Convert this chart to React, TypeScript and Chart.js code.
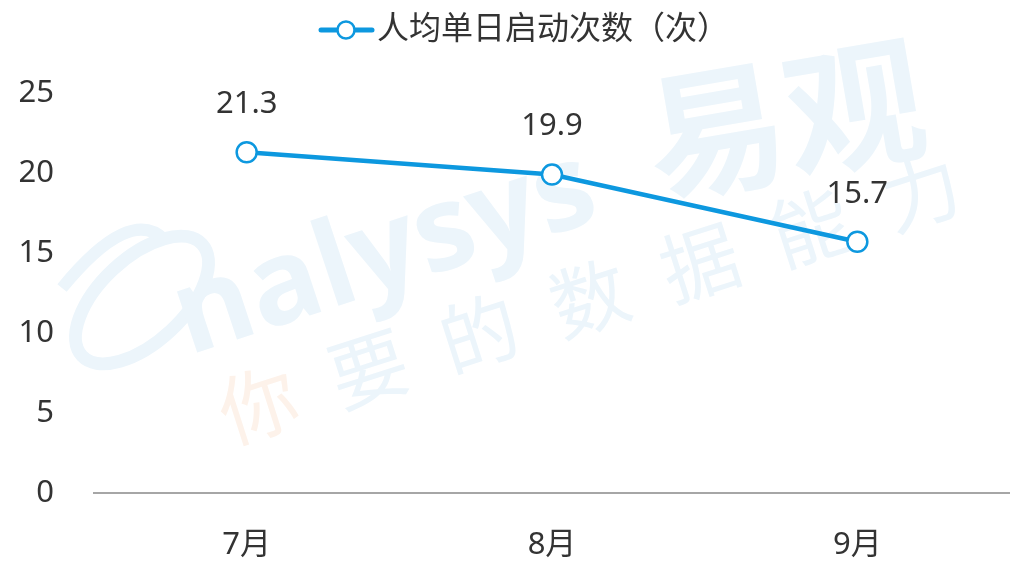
import React, { useEffect, useRef } from "react";
import { Chart, registerables } from "chart.js";

Chart.register(...registerables);

const categories = ["7月", "8月", "9月"];
const seriesName = "人均单日启动次数（次）";
const seriesValues = [21.3, 19.9, 15.7];
const yTicks = [0, 5, 10, 15, 20, 25];
const wmWord = "nalysys";
const wmBrand = "易观";
const wmSlogan = ["你", "要", "的", "数", "据", "能", "力"];

const LINE_COLOR = "#0d98df";
const TEXT_COLOR = "#333333";
const FONT = '"Noto Sans", "Noto Sans CJK SC", sans-serif';
const WM_BLUE = "#ecf5fb";
const WM_ORANGE = "#fdf2ea";

const watermarkPlugin = {
  id: "watermark",
  beforeDraw(chart: any) {
    const ctx = chart.ctx;
    ctx.save();
    ctx.strokeStyle = WM_BLUE;
    ctx.lineWidth = 13;
    ctx.translate(142, 300);
    ctx.rotate(-0.75);
    ctx.beginPath();
    ctx.ellipse(0, 0, 82, 42, 0, 0, Math.PI * 2);
    ctx.stroke();
    ctx.restore();
    ctx.save();
    ctx.strokeStyle = WM_BLUE;
    ctx.lineWidth = 12;
    ctx.beginPath();
    ctx.moveTo(62, 288);
    ctx.quadraticCurveTo(130, 205, 165, 240);
    ctx.stroke();
    ctx.restore();

    ctx.save();
    ctx.translate(385, 255);
    ctx.rotate(-0.32);
    ctx.font = 'bold 118px "Open Sans", "Noto Sans", sans-serif';
    ctx.fillStyle = WM_BLUE;
    ctx.textAlign = "center";
    ctx.textBaseline = "middle";
    ctx.fillText(wmWord, 0, 0);
    ctx.restore();

    ctx.save();
    ctx.translate(785, 118);
    ctx.rotate(-0.17);
    ctx.font = 'bold 140px "Noto Sans CJK SC", sans-serif';
    ctx.fillStyle = WM_BLUE;
    ctx.textAlign = "center";
    ctx.textBaseline = "middle";
    ctx.fillText(wmBrand, 0, 0);
    ctx.restore();

    ctx.save();
    ctx.font = '78px "Noto Sans CJK SC", sans-serif';
    ctx.textAlign = "center";
    ctx.textBaseline = "middle";
    const x0 = 258, y0 = 404, step = 116, ang = -0.31;
    wmSlogan.forEach((ch, i) => {
      ctx.save();
      ctx.translate(x0 + i * step * Math.cos(ang), y0 + i * step * Math.sin(ang));
      ctx.rotate(ang);
      ctx.fillStyle = i === 0 ? WM_ORANGE : WM_BLUE;
      ctx.fillText(ch, 0, 0);
      ctx.restore();
    });
    ctx.restore();
  },
};

const legendPlugin = {
  id: "customLegend",
  afterDraw(chart: any) {
    const ctx = chart.ctx;
    ctx.save();
    const y = 30;
    ctx.strokeStyle = LINE_COLOR;
    ctx.lineWidth = 5;
    ctx.lineCap = "round";
    ctx.beginPath();
    ctx.moveTo(321, y);
    ctx.lineTo(372, y);
    ctx.stroke();
    ctx.beginPath();
    ctx.arc(346, y, 8.5, 0, Math.PI * 2);
    ctx.fillStyle = "#ffffff";
    ctx.fill();
    ctx.lineWidth = 2.5;
    ctx.stroke();
    ctx.fillStyle = TEXT_COLOR;
    ctx.font = `32px ${FONT}`;
    ctx.textAlign = "left";
    ctx.textBaseline = "middle";
    ctx.fillText(seriesName, 377, y);
    ctx.restore();
  },
};

const dataLabelPlugin = {
  id: "dataLabels",
  afterDatasetsDraw(chart: any) {
    const ctx = chart.ctx;
    const meta = chart.getDatasetMeta(0);
    ctx.save();
    ctx.fillStyle = TEXT_COLOR;
    ctx.font = `31px ${FONT}`;
    ctx.textAlign = "center";
    ctx.textBaseline = "middle";
    meta.data.forEach((pt: any, i: number) => {
      ctx.fillText(String(seriesValues[i]), pt.x, pt.y - 48);
    });
    ctx.restore();
  },
};

export default function App() {
  const ref = useRef<HTMLCanvasElement>(null);
  useEffect(() => {
    if (!ref.current) return;
    const chart = new Chart(ref.current, {
      type: "line",
      data: {
        labels: categories,
        datasets: [
          {
            label: seriesName,
            data: seriesValues,
            borderColor: LINE_COLOR,
            borderWidth: 4.5,
            pointRadius: 10,
            pointBorderWidth: 2.5,
            pointBackgroundColor: "#ffffff",
            pointBorderColor: LINE_COLOR,
            tension: 0,
          },
        ],
      },
      options: {
        animation: false,
        responsive: false,
        maintainAspectRatio: false,
        layout: { autoPadding: false, padding: { top: 93, left: 0, right: 0, bottom: 0 } },
        plugins: {
          legend: { display: false },
          tooltip: { enabled: false },
        },
        scales: {
          x: {
            type: "category",
            offset: true,
            grid: { display: false, drawTicks: false },
            border: { display: true, color: "#a6a6a6", width: 2 },
            ticks: {
              color: TEXT_COLOR,
              font: { size: 31, family: FONT },
              padding: 34,
              maxRotation: 0,
            },
            afterFit(scale: any) {
              scale.height = 70;
            },
          },
          y: {
            min: 0,
            max: 25,
            afterBuildTicks(scale: any) {
              scale.ticks = yTicks.map((v) => ({ value: v }));
            },
            grid: { display: false, drawTicks: false },
            border: { display: false },
            ticks: {
              color: TEXT_COLOR,
              font: { size: 31, family: FONT },
              padding: 40,
            },
            afterFit(scale: any) {
              scale.width = 94;
            },
          },
        },
      },
      plugins: [watermarkPlugin, legendPlugin, dataLabelPlugin],
    } as any);
    return () => chart.destroy();
  }, []);
  return (
    <div style={{ position: "fixed", left: 0, top: 0, width: 1010, height: 563, background: "#fff" }}>
      <canvas ref={ref} width={1010} height={563} style={{ width: 1010, height: 563 }} />
    </div>
  );
}
